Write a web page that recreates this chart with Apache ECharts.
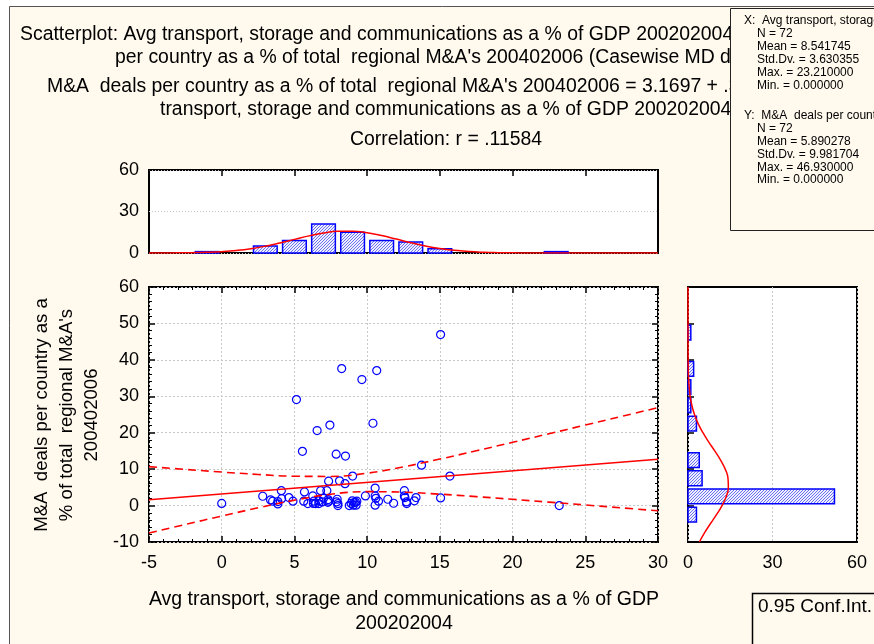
<!DOCTYPE html>
<html><head><meta charset="utf-8">
<script src="https://cdn.jsdelivr.net/npm/echarts@6/dist/echarts.min.js"></script>
<style>html,body{margin:0;padding:0;background:#fff}#c{width:874px;height:644px}</style>
</head><body><div id="c"></div>
<script>
// ---------- data ----------
const pointsX = [15.05, 8.25, 10.66, 9.64, 5.14, 7.44, 6.56, 10.40, 5.55, 7.87, 8.51, 13.74, 15.69, 9.0, 7.35, 8.1, 8.48,
  0.0,
  2.82, 3.36, 3.5, 3.86, 3.86,
  4.1, 4.12, 4.62, 4.9, 5.64, 5.69, 5.92,
  6.26, 6.33, 6.45, 6.68, 6.68, 6.8, 7.23, 7.32, 7.35, 7.94, 7.99, 7.99, 6.3, 6.9, 7.3, 7.0, 7.9,
  8.77, 8.98, 9.05, 9.24, 9.29, 9.88, 8.9, 9.1, 9.2,
  10.55, 10.55, 10.55, 10.78, 11.42, 11.82, 10.6,
  12.56, 12.56, 12.6, 12.72, 13.25, 13.36, 12.7,
  15.05, 23.21];
const pointsY = [46.93, 37.6, 37.05, 34.6, 29.1, 22.1, 20.6, 22.6, 14.9, 14.1, 13.6, 11.1, 8.1, 8.1, 6.7, 6.8, 6.0,
  0.6,
  2.56, 1.55, 1.2, 1.1, 0.46,
  4.1, 1.9, 2.2, 1.2, 1.2, 3.75, 0.55,
  2.65, 1.2, 0.55, 1.3, 0.55, 4.1, 4.1, 1.65, 1.2, 1.74, 0.55, 0.0, 0.6, 1.0, 0.9, 2.0, 1.0,
  0.0, 1.3, 0.1, 0.1, 1.2, 2.65, 0.6, 0.8, 0.9,
  4.8, 2.65, 0.1, 1.2, 1.74, 0.64, 2.0,
  4.1, 2.65, 2.2, 0.55, 1.3, 2.2, 1.0,
  2.1, 0.0];

const fitX = [-5, 30];
const fitY = [1.58, 12.72];

const bandX     = [-5, -2.5, 0, 2.5, 5, 7.5, 10, 12.5, 15, 17.5, 20, 22.5, 25, 27.5, 30];
const bandUpper = [10.70, 9.93, 9.20, 8.55, 8.05, 8.00, 8.89, 10.64, 12.76, 15.03, 17.36, 19.72, 22.10, 24.49, 26.88];
const bandLower = [-7.55, -5.19, -2.87, -0.61, 1.47, 3.12, 3.82, 3.67, 3.13, 2.46, 1.72, 0.95, 0.16, -0.63, -1.44];

const xBinStart = [-2, 2, 4, 6, 8, 10, 12, 14, 22];
const xBinEnd   = [0, 4, 6, 8, 10, 12, 14, 16, 24];
const xBinCount = [1, 5, 9, 21, 15, 9, 8, 3, 1];

const yBinStart = [-5, 0, 5, 10, 20, 25, 30, 35, 45];
const yBinEnd   = [0, 5, 10, 15, 25, 30, 35, 40, 50];
const yBinCount = [3, 52, 5, 4, 3, 1, 1, 2, 1];

const xNormX = [-5,-4,-3,-2,-1,0,1,2,3,4,5,6,7,8,9,10,11,12,13,14,15,16,17,18,19,20,21,22,23,24,25,26,27,28,29,30];
const xNormY = [0.01,0.04,0.10,0.23,0.50,0.99,1.83,3.12,4.94,7.24,9.84,12.39,14.47,15.66,15.70,14.60,12.58,10.05,7.44,5.11,3.25,1.91,1.05,0.53,0.25,0.11,0.04,0.02,0.01,0,0,0,0,0,0,0];

const yNormY = [-10,-7.5,-5,-2.5,0,2.5,5,7.5,10,12.5,15,17.5,20,22.5,25,27.5,30,35,40,45,50,55,60];
const yNormX = [4.05,5.85,7.94,10.11,12.09,13.59,14.33,14.20,13.22,11.56,9.49,7.32,5.30,3.60,2.30,1.38,0.78,0.20,0.04,0.005,0,0,0];

const titleLines = [
  "Scatterplot: Avg transport, storage and communications as a % of GDP 200202004 vs. M&A  deals",
  "per country as a % of total  regional M&A's 200402006 (Casewise MD deletion)",
  "M&A  deals per country as a % of total  regional M&A's 200402006 = 3.1697 + .31850 * Avg",
  "transport, storage and communications as a % of GDP 200202004",
  "Correlation: r = .11584"
];
const statsX = ["X:  Avg transport, storage and communications", "N = 72", "Mean = 8.541745", "Std.Dv. = 3.630355", "Max. = 23.210000", "Min. = 0.000000"];
const statsY = ["Y:  M&A  deals per country", "N = 72", "Mean = 5.890278", "Std.Dv. = 9.981704", "Max. = 46.930000", "Min. = 0.000000"];
const xTitle = "Avg transport, storage and communications as a % of GDP\n200202004";
const yTitle = "M&A  deals per country as a\n% of total  regional M&A's\n200402006";
const legendText = "0.95 Conf.Int.";

// ---------- style ----------
const FONT = "Liberation Sans, Arial, sans-serif";
const CREAM = '#fff9ee';

const cv = document.createElement('canvas');
cv.width = 3; cv.height = 3;
const g = cv.getContext('2d');
g.fillStyle = '#eef0ff'; g.fillRect(0, 0, 3, 3);
g.fillStyle = '#6a70f0';
for (let i = 0; i < 3; i++) g.fillRect(i, 2 - i, 1, 1);
const hatch = { image: cv, repeat: 'repeat' };

const chart = echarts.init(document.getElementById('c'), null, { renderer: 'canvas' });

const lbl = { color: '#000', fontSize: 18, fontFamily: FONT };
const gridLine = { show: true, lineStyle: { color: '#c8c8c8', type: [2, 2], width: 1 } };
const tickIn = { show: true, inside: true, length: 6, lineStyle: { color: '#000', width: 1.5 } };
const minor = { show: true, splitNumber: 5, length: 3, lineStyle: { color: '#000', width: 1 } };
const noLine = { show: false, onZero: false };

const topHistData = xBinStart.map((s, i) => [s, xBinEnd[i], xBinCount[i]]);
const rightHistData = yBinStart.map((s, i) => [s, yBinEnd[i], yBinCount[i]]);

const graphics = [
  { type: 'rect', z: -10, shape: { x: 9.5, y: 6.5, width: 900, height: 700 }, style: { fill: CREAM, stroke: '#555', lineWidth: 1 } }
];
const titleX = [20, 115, 47, 160, 350];
const titleY = [35, 58, 87, 110, 140];
titleLines.forEach((t, i) => graphics.push({
  type: 'text', z: 1, x: titleX[i], y: titleY[i],
  style: { text: t, fontSize: 19.4, fontFamily: FONT, fill: '#000', textAlign: 'left', align: 'left', textVerticalAlign: 'middle', verticalAlign: 'middle' }
}));
graphics.push({ type: 'rect', z: 5, shape: { x: 730.5, y: 8.5, width: 160, height: 222 }, style: { fill: CREAM, stroke: '#222', lineWidth: 1 } });
statsX.concat([''], statsY).forEach((t, i) => {
  if (!t) return;
  const yy = i < 6 ? 21 + i * 12.9 : 116 + (i - 7) * 12.8;
  graphics.push({ type: 'text', z: 6, x: (i === 0 || i === 7) ? 744 : 757, y: yy,
    style: { text: t, fontSize: 12, fontFamily: FONT, fill: '#000', textAlign: 'left', align: 'left', textVerticalAlign: 'middle', verticalAlign: 'middle' } });
});
graphics.push({ type: 'text', z: 2, x: 404, y: 612,
  style: { text: xTitle, fontSize: 19.5, fontFamily: FONT, fill: '#000', lineHeight: 24, textAlign: 'center', align: 'center', textVerticalAlign: 'middle', verticalAlign: 'middle' } });
graphics.push({ type: 'text', z: 2, x: 67, y: 415, rotation: Math.PI / 2,
  style: { text: yTitle, fontSize: 18.6, fontFamily: FONT, fill: '#000', lineHeight: 25, textAlign: 'center', align: 'center', textVerticalAlign: 'middle', verticalAlign: 'middle' } });
graphics.push({ type: 'rect', z: 2, shape: { x: 752.5, y: 593.5, width: 200, height: 100 }, style: { fill: CREAM, stroke: '#000', lineWidth: 1.5 } });
graphics.push({ type: 'text', z: 3, x: 758, y: 607,
  style: { text: legendText, fontSize: 19, fontFamily: FONT, fill: '#000', textAlign: 'left', align: 'left', textVerticalAlign: 'middle', verticalAlign: 'middle' } });

const option = {
  animation: false,
  backgroundColor: '#fff',
  graphic: graphics,
  grid: [
    { left: 149, top: 170, width: 509, height: 83, show: true, backgroundColor: '#fff', borderColor: '#000', borderWidth: 2 },
    { left: 149, top: 287, width: 509, height: 255, show: true, backgroundColor: '#fff', borderColor: '#000', borderWidth: 2 },
    { left: 688, top: 287, width: 169, height: 255, show: true, backgroundColor: '#fff', borderColor: '#000', borderWidth: 2 }
  ],
  xAxis: [
    { gridIndex: 0, type: 'value', min: -5, max: 30, interval: 5, axisLine: noLine, axisTick: { show: false }, axisLabel: { show: false }, splitLine: { show: false } },
    { gridIndex: 1, type: 'value', min: -5, max: 30, interval: 5, position: 'bottom', axisLine: noLine, axisTick: tickIn, minorTick: minor, axisLabel: Object.assign({ margin: 12 }, lbl), splitLine: gridLine },
    { gridIndex: 2, type: 'value', min: 0, max: 60, interval: 30, position: 'bottom', axisLine: noLine, axisTick: { show: false }, axisLabel: Object.assign({ margin: 12 }, lbl), splitLine: gridLine },
    { gridIndex: 1, type: 'value', min: -5, max: 30, interval: 5, position: 'top', axisLine: noLine, axisTick: tickIn, minorTick: minor, axisLabel: { show: false }, splitLine: { show: false } },
    { gridIndex: 0, type: 'value', min: -5, max: 30, interval: 5, position: 'top', axisLine: noLine, axisTick: tickIn, axisLabel: { show: false }, splitLine: { show: false } }
  ],
  yAxis: [
    { gridIndex: 0, type: 'value', min: 0, max: 60, interval: 30, axisLine: noLine, axisTick: { show: false }, axisLabel: Object.assign({ margin: 10 }, lbl), splitLine: { show: true, lineStyle: { color: '#c4c4c4', type: [1, 2], width: 1 } } },
    { gridIndex: 1, type: 'value', min: -10, max: 60, interval: 10, position: 'left', axisLine: noLine, axisTick: tickIn, minorTick: minor, axisLabel: Object.assign({ margin: 10 }, lbl), splitLine: gridLine },
    { gridIndex: 2, type: 'value', min: -10, max: 60, interval: 10, position: 'left', axisLine: noLine, axisTick: tickIn, axisLabel: { show: false }, splitLine: { show: false } },
    { gridIndex: 1, type: 'value', min: -10, max: 60, interval: 10, position: 'right', axisLine: noLine, axisTick: tickIn, minorTick: minor, axisLabel: { show: false }, splitLine: { show: false } }
  ],
  series: [
    {
      type: 'custom', xAxisIndex: 0, yAxisIndex: 0, data: topHistData, encode: { x: [0, 1], y: 2 }, z: 3,
      renderItem: function (params, api) {
        const p0 = api.coord([api.value(0), 0]);
        const p1 = api.coord([api.value(1), api.value(2)]);
        const gap = 2.7;
        return { type: 'rect', shape: { x: p0[0] + gap, y: p1[1], width: p1[0] - p0[0] - 2 * gap, height: p0[1] - p1[1] },
          style: { fill: hatch, stroke: '#0000ff', lineWidth: 1.5 } };
      }
    },
    { type: 'line', xAxisIndex: 0, yAxisIndex: 0, data: xNormX.map((x, i) => [x, xNormY[i]]), smooth: true, symbol: 'none', z: 4,
      lineStyle: { color: '#ff0000', width: 1.5 } },
    { type: 'scatter', xAxisIndex: 1, yAxisIndex: 1, data: pointsX.map((x, i) => [x, pointsY[i]]), symbol: 'circle', symbolSize: 8, z: 3,
      itemStyle: { color: 'rgba(255,255,255,0)', borderColor: '#0000ff', borderWidth: 1.2, opacity: 1 } },
    { type: 'line', xAxisIndex: 1, yAxisIndex: 1, data: fitX.map((x, i) => [x, fitY[i]]), symbol: 'none', z: 4,
      lineStyle: { color: '#ff0000', width: 1.6 } },
    { type: 'line', xAxisIndex: 1, yAxisIndex: 1, data: bandX.map((x, i) => [x, bandUpper[i]]), symbol: 'none', smooth: 0.4, z: 4,
      lineStyle: { color: '#ff0000', width: 1.6, type: [8, 5] } },
    { type: 'line', xAxisIndex: 1, yAxisIndex: 1, data: bandX.map((x, i) => [x, bandLower[i]]), symbol: 'none', smooth: 0.4, z: 4,
      lineStyle: { color: '#ff0000', width: 1.6, type: [8, 5] } },
    {
      type: 'custom', xAxisIndex: 2, yAxisIndex: 2, data: rightHistData, encode: { y: [0, 1], x: 2 }, z: 3,
      renderItem: function (params, api) {
        const p0 = api.coord([0, api.value(0)]);
        const p1 = api.coord([api.value(2), api.value(1)]);
        const gap = 1.7;
        return { type: 'rect', shape: { x: p0[0], y: p1[1] + gap, width: p1[0] - p0[0], height: p0[1] - p1[1] - 2 * gap },
          style: { fill: hatch, stroke: '#0000ff', lineWidth: 1.5 } };
      }
    },
    { type: 'line', xAxisIndex: 2, yAxisIndex: 2, data: yNormY.map((y, i) => [yNormX[i], y]), smooth: true, symbol: 'none', z: 4,
      lineStyle: { color: '#ff0000', width: 1.5 } }
  ]
};
chart.setOption(option);
</script>
</body></html>
